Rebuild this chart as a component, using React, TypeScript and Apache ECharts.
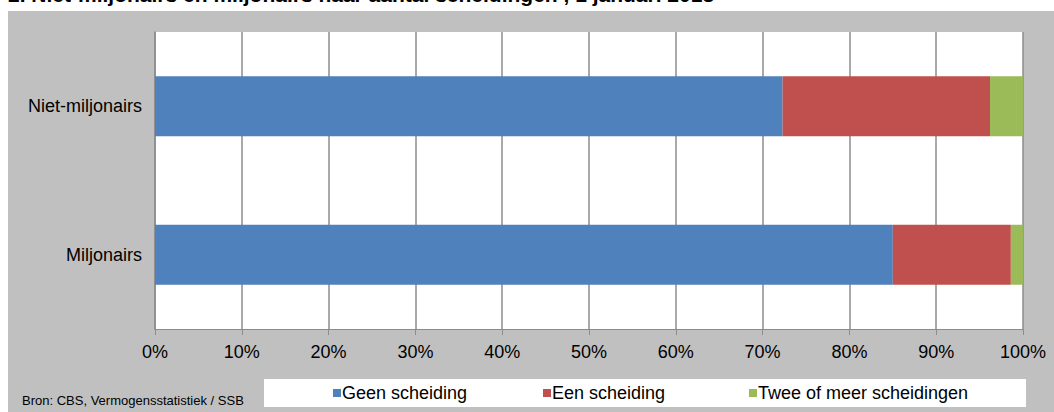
import React, { useEffect, useRef } from "react";
import * as echarts from "echarts";

const categories = ["Niet-miljonairs", "Miljonairs"];
const seriesNames = ["Geen scheiding", "Een scheiding", "Twee of meer scheidingen"];
const geenScheiding = [72.3, 85.0];
const eenScheiding = [23.9, 13.6];
const tweeOfMeer = [3.8, 1.4];
const colors = ["#4f81bd", "#c0504d", "#9bbb59"];
const titleText = "2. Niet-miljonairs en miljonairs naar aantal scheidingen , 1 januari 2013";
const sourceText = "Bron: CBS, Vermogensstatistiek / SSB";

const FONT = 'Arial, "Liberation Sans", sans-serif';

export default function App() {
  const ref = useRef<HTMLDivElement>(null);
  useEffect(() => {
    document.body.style.margin = "0";
    if (!ref.current) return;
    const chart = echarts.init(ref.current, null, { renderer: "svg" });
    const values = [geenScheiding, eenScheiding, tweeOfMeer];
    const legendLefts = [333, 543, 749];
    chart.setOption({
      animation: false,
      backgroundColor: "#ffffff",
      graphic: [
        { type: "rect", z: -10, shape: { x: 8, y: 11, width: 1046, height: 401 }, style: { fill: "#c0c0c0" } },
        { type: "rect", z: -5, shape: { x: 264, y: 379, width: 762, height: 28 }, style: { fill: "#ffffff" } },
        {
          type: "text", x: 8, y: -16,
          style: { text: titleText, font: `bold 21px ${FONT}`, fill: "#000", textVerticalAlign: "top" },
        },
        {
          type: "text", x: 22, y: 400,
          style: { text: sourceText, font: `13px ${FONT}`, fill: "#000", textVerticalAlign: "middle" },
        },
      ],
      legend: seriesNames.map((n, i) => ({
        data: [n],
        left: legendLefts[i],
        top: 384,
        itemWidth: 8,
        itemHeight: 8,
        icon: "rect",
        itemGap: 0,
        textStyle: { fontSize: 18, fontFamily: FONT, color: "#000", padding: [0, 0, 0, -4] },
        padding: 0,
      })),
      grid: {
        left: 155, top: 32, right: 31, bottom: 83,
        show: true, backgroundColor: "#ffffff", borderWidth: 0,
      },
      xAxis: {
        type: "value", min: 0, max: 100, interval: 10,
        axisLabel: { formatter: "{value}%", fontSize: 18, fontFamily: FONT, color: "#000", margin: 14 },
        axisLine: { show: true, lineStyle: { color: "#8c8c8c", width: 1 } },
        axisTick: { show: true, length: 6, lineStyle: { color: "#8c8c8c" } },
        splitLine: { show: true, lineStyle: { color: "#8c8c8c", width: 1.5 } },
      },
      yAxis: {
        type: "category", data: categories, inverse: true,
        axisLabel: { fontSize: 18, fontFamily: FONT, color: "#000", margin: 13 },
        axisLine: { show: true, lineStyle: { color: "#8c8c8c", width: 1.5 } },
        axisTick: { show: false },
      },
      series: seriesNames.map((n, i) => ({
        name: n,
        type: "bar",
        stack: "total",
        data: values[i],
        barWidth: 60,
        itemStyle: { color: colors[i] },
      })),
    });
    return () => chart.dispose();
  }, []);
  return <div ref={ref} style={{ width: 1054, height: 412 }} />;
}
